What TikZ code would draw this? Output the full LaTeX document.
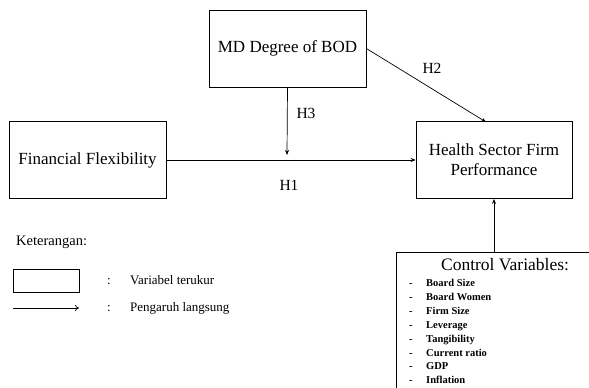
\documentclass[tikz,border=0pt]{standalone}
\usepackage{fontspec}
\setmainfont{Liberation Serif}
\usetikzlibrary{arrows.meta}
\begin{document}
\begin{tikzpicture}[x=1pt,y=-1pt,
  box/.style={draw, line width=0.8pt, align=center, inner sep=0pt, font=\fontsize{17}{20}\selectfont},
  arr/.style={line width=0.7pt, -{Stealth[length=5pt,width=4pt]}},
  lbl/.style={font=\fontsize{15.5}{18}\selectfont, inner sep=0pt},
  item/.style={font=\bfseries\fontsize{10.5}{12}\selectfont, anchor=base west, inner sep=0pt},
  legtext/.style={font=\fontsize{13}{15}\selectfont, anchor=base west, inner sep=0pt}]
\useasboundingbox (0,0) rectangle (589,388);
\clip (0,0) rectangle (589,388);
% main boxes
\node[box, minimum width=157pt, minimum height=77pt] (md) at (287.5,48.5) {MD Degree of BOD};
\node[box, minimum width=157pt, minimum height=77pt] (ff) at (87.5,160) {Financial Flexibility};
\node[box, minimum width=156pt, minimum height=77pt] (hs) at (494,160) {Health Sector Firm\\Performance};
% control variables box
\node[draw, line width=0.8pt, minimum width=214pt, minimum height=148pt, inner sep=0pt] (ctrl) at (503,326) {};
\node[inner sep=0pt, font=\fontsize{17.5}{20}\selectfont] (ctitle) at (505,265) {Control Variables:};
\foreach \t [count=\i from 0] in {Board Size,Board Women,Firm Size,Leverage,Tangibility,Current ratio,GDP,Inflation}{
  \node[item] (d\i) at (409,286.5+13.9*\i) {-};
  \node[item] (c\i) at (426,286.5+13.9*\i) {\t};
}
% connectors
\coordinate (h3end) at (287,155);
\coordinate (hsin) at (486,122);
\draw[arr] (ff.east) -- (hs.west);
\draw[arr] (md.south) -- (h3end);
\draw[arr] (md.east) -- (hsin);
\draw[arr] (hs.south |- ctrl.north) -- (hs.south);
% labels
\node[lbl] (h1) at (289,185) {H1};
\node[lbl] (h2) at (432,68) {H2};
\node[lbl] (h3) at (306,113) {H3};
% legend
\node[anchor=west, inner sep=0pt, font=\fontsize{14.5}{17}\selectfont] (ket) at (16,242) {Keterangan:};
\node[draw, line width=0.8pt, minimum width=66pt, minimum height=23pt, inner sep=0pt] (lbox) at (46,280.5) {};
\node[legtext] (col1) at (107,284.5) {:};
\node[legtext] (t1) at (130,284.5) {Variabel terukur};
\coordinate (la) at (13,308);
\coordinate (lb) at (79,308);
\draw[line width=0.7pt, -{To[length=4pt,width=6pt]}] (la) -- (lb);
\node[legtext] (col2) at (107,311.5) {:};
\node[legtext] (t2) at (130,311.5) {Pengaruh langsung};
\end{tikzpicture}
\end{document}
